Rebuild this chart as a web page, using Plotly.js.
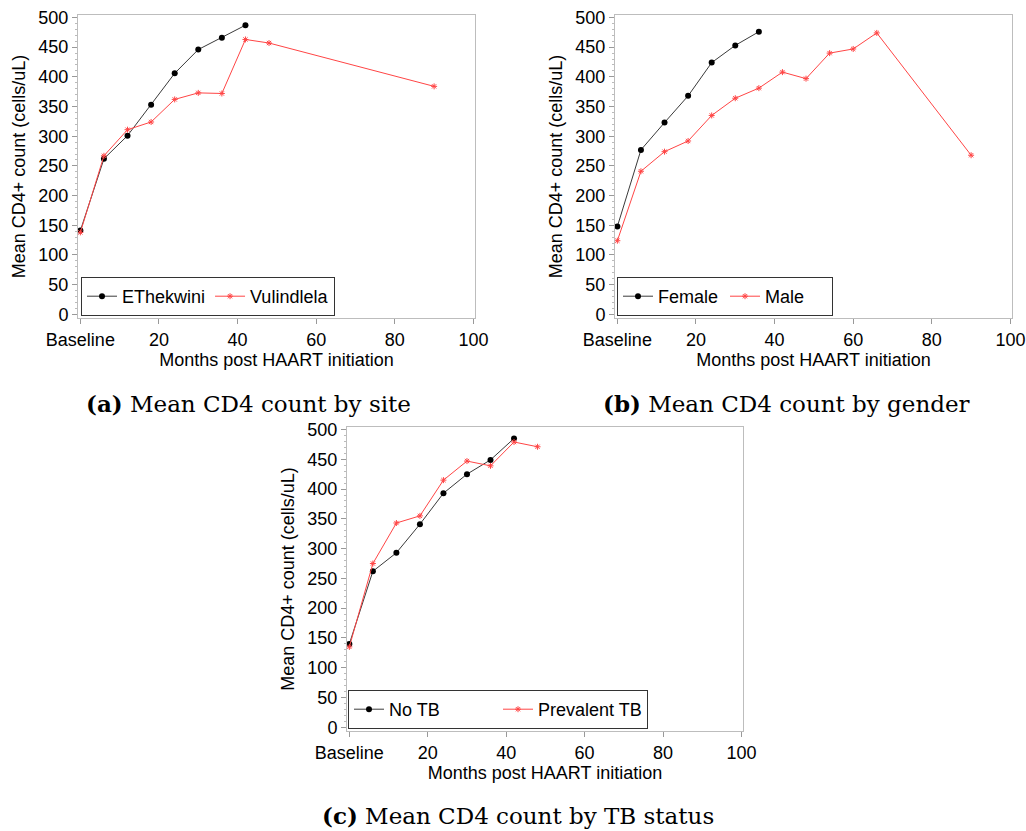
<!DOCTYPE html>
<html>
<head>
<meta charset="utf-8">
<script src="https://cdn.plot.ly/plotly-3.0.1.min.js"></script>
<style>html,body{margin:0;padding:0;background:#fff;}#chart{width:1026px;height:831px;}</style>
</head>
<body>
<div id="chart"></div>
<script>
// ---- data ----
const monthsA_black = [0, 6, 12, 18, 24, 30, 36, 42];
const eThekwini = [141, 262, 301, 353, 406, 446, 466, 487];
const monthsA_red = [0, 6, 12, 18, 24, 30, 36, 42, 48, 90];
const vulindlela = [138, 267, 311, 324, 362, 373, 372, 463, 457, 384];

const monthsB_black = [0, 6, 12, 18, 24, 30, 36];
const female = [148, 277, 323, 368, 424, 453, 476];
const monthsB_red = [0, 6, 12, 18, 24, 30, 36, 42, 48, 54, 60, 66, 90];
const male = [124, 241, 274, 292, 335, 364, 381, 408, 397, 440, 447, 474, 268];

const monthsC_black = [0, 6, 12, 18, 24, 30, 36, 42];
const noTB = [140, 262, 293, 341, 393, 425, 449, 485];
const monthsC_red = [0, 6, 12, 18, 24, 30, 36, 42, 48];
const prevalentTB = [135, 275, 343, 355, 415, 447, 439, 479, 471];

const xTickVals = [0, 20, 40, 60, 80, 100];
const xTickText = ['Baseline', '20', '40', '60', '80', '100'];
const yTickVals = [0, 50, 100, 150, 200, 250, 300, 350, 400, 450, 500];

const captions = ['<b>(a)</b> Mean CD4 count by site', '<b>(b)</b> Mean CD4 count by gender', '<b>(c)</b> Mean CD4 count by TB status'];

// ---- styling ----
const W = 1026, H = 831;
const blackLine = '#3a3a3a', redLine = '#ff4545';
const font = 'Liberation Sans, Arial, sans-serif';
const serif = 'DejaVu Serif, serif';

function blackTrace(x, y, name, xa, ya, lg) {
  return {x: x, y: y, name: name, xaxis: xa, yaxis: ya, legend: lg, type: 'scatter', mode: 'lines+markers',
    line: {color: blackLine, width: 1}, marker: {color: '#000', size: 6, symbol: 'circle'}};
}
function redTrace(x, y, name, xa, ya, lg) {
  return {x: x, y: y, name: name, xaxis: xa, yaxis: ya, legend: lg, type: 'scatter', mode: 'lines+markers',
    line: {color: redLine, width: 1}, marker: {color: redLine, size: 5, symbol: 'asterisk-open', line: {color: redLine, width: 1}}};
}

const data = [
  blackTrace(monthsA_black, eThekwini, 'EThekwini', 'x', 'y', 'legend'),
  redTrace(monthsA_red, vulindlela, 'Vulindlela', 'x', 'y', 'legend'),
  blackTrace(monthsB_black, female, 'Female', 'x2', 'y2', 'legend2'),
  redTrace(monthsB_red, male, 'Male', 'x2', 'y2', 'legend2'),
  blackTrace(monthsC_black, noTB, 'No TB', 'x3', 'y3', 'legend3'),
  redTrace(monthsC_red, prevalentTB, 'Prevalent TB', 'x3', 'y3', 'legend3')
];

function px2x(p) { return p / W; }
function px2y(p) { return 1 - p / H; }

function xaxis(l, r, anchor) {
  return {domain: [px2x(l), px2x(r)], anchor: anchor, range: [-0.6, 100.4],
    tickvals: xTickVals, ticktext: xTickText, ticks: 'outside', ticklen: 5, tickcolor: '#999',
    showline: true, mirror: true, linecolor: '#bdbdbd', linewidth: 1, showgrid: false, zeroline: false,
    tickfont: {family: font, size: 18, color: '#000'},
    title: {text: 'Months post HAART initiation', font: {family: font, size: 18, color: '#000'}, standoff: 2},
    automargin: false, fixedrange: true};
}
function yaxis(t, b, anchor) {
  return {domain: [px2y(b), px2y(t)], anchor: anchor, range: [-6.2, 504.2],
    tickvals: yTickVals, ticks: 'outside', ticklen: 5, tickcolor: '#999',
    minor: {dtick: 10, ticks: 'outside', ticklen: 2, tickcolor: '#bbb', showgrid: false},
    showline: true, mirror: true, linecolor: '#bdbdbd', linewidth: 1, showgrid: false, zeroline: false,
    tickfont: {family: font, size: 18, color: '#000'},
    title: {text: 'Mean CD4+ count (cells/uL)', font: {family: font, size: 18, color: '#000'}, standoff: 8},
    automargin: false, fixedrange: true};
}
function legend(l, b, ew) {
  return {x: px2x(l), y: px2y(b), xanchor: 'left', yanchor: 'bottom', orientation: 'h',
    bordercolor: '#333', borderwidth: 1, bgcolor: '#fff', entrywidth: ew, entrywidthmode: 'pixels',
    font: {family: font, size: 18, color: '#000'}, itemwidth: 30, tracegroupgap: 0};
}

const capFont = {family: serif, size: 23, color: '#000'};
const layout = {
  width: W, height: H, margin: {l: 0, r: 0, t: 0, b: 0},
  paper_bgcolor: '#fff', plot_bgcolor: '#fff', showlegend: true,
  xaxis: xaxis(78, 475, 'y'), yaxis: yaxis(15, 318, 'x'),
  xaxis2: xaxis(615, 1012, 'y2'), yaxis2: yaxis(15, 318, 'x2'),
  xaxis3: xaxis(347, 743, 'y3'), yaxis3: yaxis(427, 731, 'x3'),
  legend: legend(81, 316, 0),
  legend2: legend(617, 316, 62),
  legend3: legend(348, 729, 104),
  annotations: [
    {text: captions[0], x: px2x(248), y: px2y(403), xref: 'paper', yref: 'paper', showarrow: false, xanchor: 'center', yanchor: 'middle', font: capFont},
    {text: captions[1], x: px2x(786), y: px2y(403), xref: 'paper', yref: 'paper', showarrow: false, xanchor: 'center', yanchor: 'middle', font: capFont},
    {text: captions[2], x: px2x(518), y: px2y(815), xref: 'paper', yref: 'paper', showarrow: false, xanchor: 'center', yanchor: 'middle', font: capFont}
  ]
};

Plotly.newPlot('chart', data, layout, {displayModeBar: false, staticPlot: true});
</script>
</body>
</html>
